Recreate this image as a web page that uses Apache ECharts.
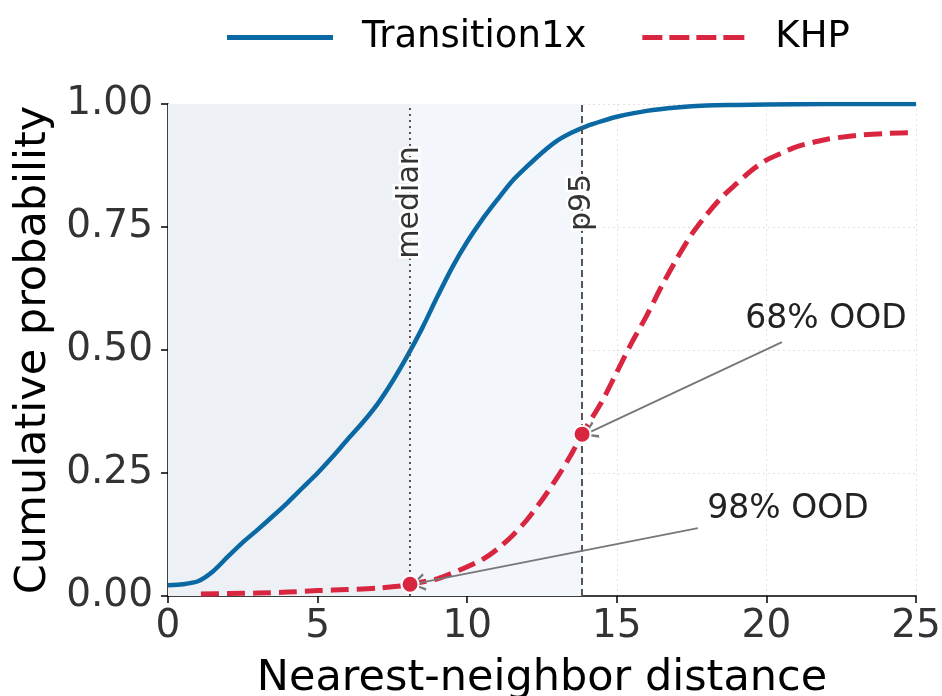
<!DOCTYPE html>
<html>
<head>
<meta charset="utf-8">
<script src="https://cdn.jsdelivr.net/npm/echarts@6/dist/echarts.min.js"></script>
<style>
html,body{margin:0;padding:0;background:#fff;}
#chart{width:942px;height:696px;}
</style>
</head>
<body>
<div id="chart"></div>
<script>
// ---- data ----
const transX = [0, 0.5, 1, 1.5, 2, 2.5, 3, 3.5, 4, 4.5, 5, 5.5, 6, 6.5, 7, 7.5, 8, 8.5, 9, 9.5, 10, 10.5, 11, 11.5, 12, 12.5, 13, 13.5, 14, 14.5, 15, 16, 17, 18, 19, 20, 22, 25];
const transY = [0.022, 0.024, 0.03, 0.05, 0.08, 0.109, 0.135, 0.162, 0.19, 0.22, 0.25, 0.283, 0.318, 0.352, 0.39, 0.436, 0.488, 0.545, 0.608, 0.668, 0.72, 0.765, 0.805, 0.843, 0.873, 0.901, 0.925, 0.942, 0.955, 0.965, 0.974, 0.986, 0.993, 0.997, 0.998, 0.999, 1.0, 1.0];
const khpX = [1.1, 2, 3, 4, 5, 6, 7, 8, 8.09, 9, 9.87, 10.5, 11, 11.5, 12, 12.5, 13, 13.5, 13.84, 14.5, 15, 15.5, 16, 16.5, 17, 17.5, 18, 18.5, 19, 19.5, 20, 20.5, 21, 22, 23, 24, 25];
const khpY = [0.004, 0.005, 0.006, 0.008, 0.011, 0.013, 0.016, 0.022, 0.024, 0.035, 0.056, 0.074, 0.095, 0.122, 0.155, 0.195, 0.24, 0.29, 0.329, 0.395, 0.455, 0.515, 0.57, 0.63, 0.685, 0.735, 0.775, 0.81, 0.838, 0.865, 0.886, 0.9, 0.913, 0.928, 0.936, 0.94, 0.942];
const medianX = 8.09;
const p95X = 13.84;
const oodPoints = [[8.09, 0.024], [13.84, 0.329]];
const oodLabels = ['98% OOD', '68% OOD'];
const oodTextPos = [[20.72, 0.175], [21.99, 0.563]];
const oodArrowStart = [[17.71, 0.138], [20.52, 0.516]];
const oodArrowEnd = [[8.36, 0.026], [14.1, 0.333]];
const xTicks = [0, 5, 10, 15, 20, 25];
const yTicks = [0, 0.25, 0.5, 0.75, 1.0];
const seriesNames = ['Transition1x', 'KHP'];

const FONT = 'DejaVu Sans';
const BLUE = '#0a68a3';
const RED = '#d92640';

const zip = (a, b) => a.map((v, i) => [v, b[i]]);
const chevron = 'path://M5,0 L10,10 L8.6,10.6 L5,2.4 L1.4,10.6 L0,10 Z';
const solidIcon = 'path://M0,0h106v5h-106z';
const dashIcon = 'path://M0,0h20v5h-20z M27,0h20v5h-20z M54,0h20v5h-20z M81,0h21v5h-21z';

const chart = echarts.init(document.getElementById('chart'), null, {renderer: 'canvas'});
chart.setOption({
  animation: false,
  backgroundColor: '#fff',
  textStyle: {fontFamily: FONT},
  grid: {left: 168, right: 26, top: 104, bottom: 100, containLabel: false, outerBoundsMode: 'none'},
  legend: {
    data: [
      {name: seriesNames[0], icon: solidIcon, itemStyle: {color: BLUE}},
      {name: seriesNames[1], icon: dashIcon, itemStyle: {color: RED}}
    ],
    top: 14, left: 222,
    itemWidth: 106, itemHeight: 5, itemGap: 56,
    textStyle: {fontFamily: FONT, fontSize: 37, color: '#000', padding: [0, 0, 0, 24]}
  },
  xAxis: {
    type: 'value', min: xTicks[0], max: xTicks[xTicks.length - 1], interval: 5,
    name: 'Nearest-neighbor distance', nameLocation: 'middle', nameGap: 61,
    nameTextStyle: {fontFamily: FONT, fontSize: 43, color: '#000'},
    axisLine: {show: true, onZero: false, lineStyle: {color: '#000', width: 1.5}},
    axisTick: {show: true, length: 7, lineStyle: {color: '#000', width: 1.5}},
    axisLabel: {fontFamily: FONT, fontSize: 39, color: '#333', margin: 11},
    splitLine: {show: true, lineStyle: {color: '#e2e2e2', type: [2, 3], width: 1}}
  },
  yAxis: {
    type: 'value', min: yTicks[0], max: yTicks[yTicks.length - 1], interval: 0.25,
    name: 'Cumulative probability', nameLocation: 'middle', nameGap: 113,
    nameTextStyle: {fontFamily: FONT, fontSize: 43, color: '#000'},
    axisLine: {show: true, onZero: false, lineStyle: {color: '#000', width: 1.5}},
    axisTick: {show: true, length: 7, lineStyle: {color: '#000', width: 1.5}},
    axisLabel: {fontFamily: FONT, fontSize: 39, color: '#333', margin: 15, formatter: v => v.toFixed(2)},
    splitLine: {show: true, lineStyle: {color: '#e2e2e2', type: [2, 3], width: 1}}
  },
  series: [
    {
      name: '_bg', type: 'line', data: [], z: 1, silent: true,
      markArea: {
        silent: true,
        data: [
          [{xAxis: 0, itemStyle: {color: '#edf1f6'}}, {xAxis: medianX}],
          [{xAxis: medianX, itemStyle: {color: '#f3f6fa'}}, {xAxis: p95X}]
        ]
      },
      markLine: {
        silent: true, symbol: ['none', 'none'],
        data: [
          [{coord: [medianX, 0], lineStyle: {color: '#555', type: [2, 4], width: 2},
            label: {show: false}}, {coord: [medianX, 1]}],
          [{coord: [p95X, 0], lineStyle: {color: '#555', type: [7, 4], width: 2},
            label: {show: false}}, {coord: [p95X, 1]}]
        ]
      },
      markPoint: {
        silent: true, symbol: 'circle', symbolSize: 0,
        data: [
          {coord: [medianX, 0.8], label: {show: true, formatter: 'median', rotate: 90, position: 'inside',
            fontFamily: FONT, fontSize: 30, color: '#333', textBorderColor: '#fff', textBorderWidth: 5}},
          {coord: [p95X, 0.8], label: {show: true, formatter: 'p95', rotate: 90, position: 'inside',
            fontFamily: FONT, fontSize: 30, color: '#333', textBorderColor: '#fff', textBorderWidth: 5}}
        ]
      }
    },
    {
      name: seriesNames[0], type: 'line', data: zip(transX, transY), z: 3,
      symbol: 'none', showSymbol: false, smooth: 0.25, clip: true,
      lineStyle: {color: BLUE, width: 4.5, join: 'round'}, itemStyle: {color: BLUE}
    },
    {
      name: seriesNames[1], type: 'line', data: zip(khpX, khpY), z: 3,
      symbol: 'none', showSymbol: false, smooth: 0.25, clip: true,
      lineStyle: {color: RED, width: 5, type: [18, 8], join: 'round'}, itemStyle: {color: RED}
    },
    {
      name: '_ood', type: 'scatter', data: oodPoints, z: 5,
      symbol: 'circle', symbolSize: 17,
      itemStyle: {color: RED, borderColor: '#fff', borderWidth: 2, opacity: 1},
      markLine: {
        silent: true, symbol: ['none', chevron], symbolSize: [18, 14],
        lineStyle: {color: '#777', width: 1.8, type: 'solid'},
        label: {show: false},
        data: oodArrowStart.map((s, i) => [{coord: s}, {coord: oodArrowEnd[i]}])
      },
      markPoint: {
        silent: true, symbol: 'circle', symbolSize: 0,
        data: oodTextPos.map((p, i) => ({
          coord: p,
          label: {show: true, position: 'inside', formatter: oodLabels[i],
            fontFamily: FONT, fontSize: 33, color: '#222'}
        }))
      }
    }
  ]
});
</script>
</body>
</html>
